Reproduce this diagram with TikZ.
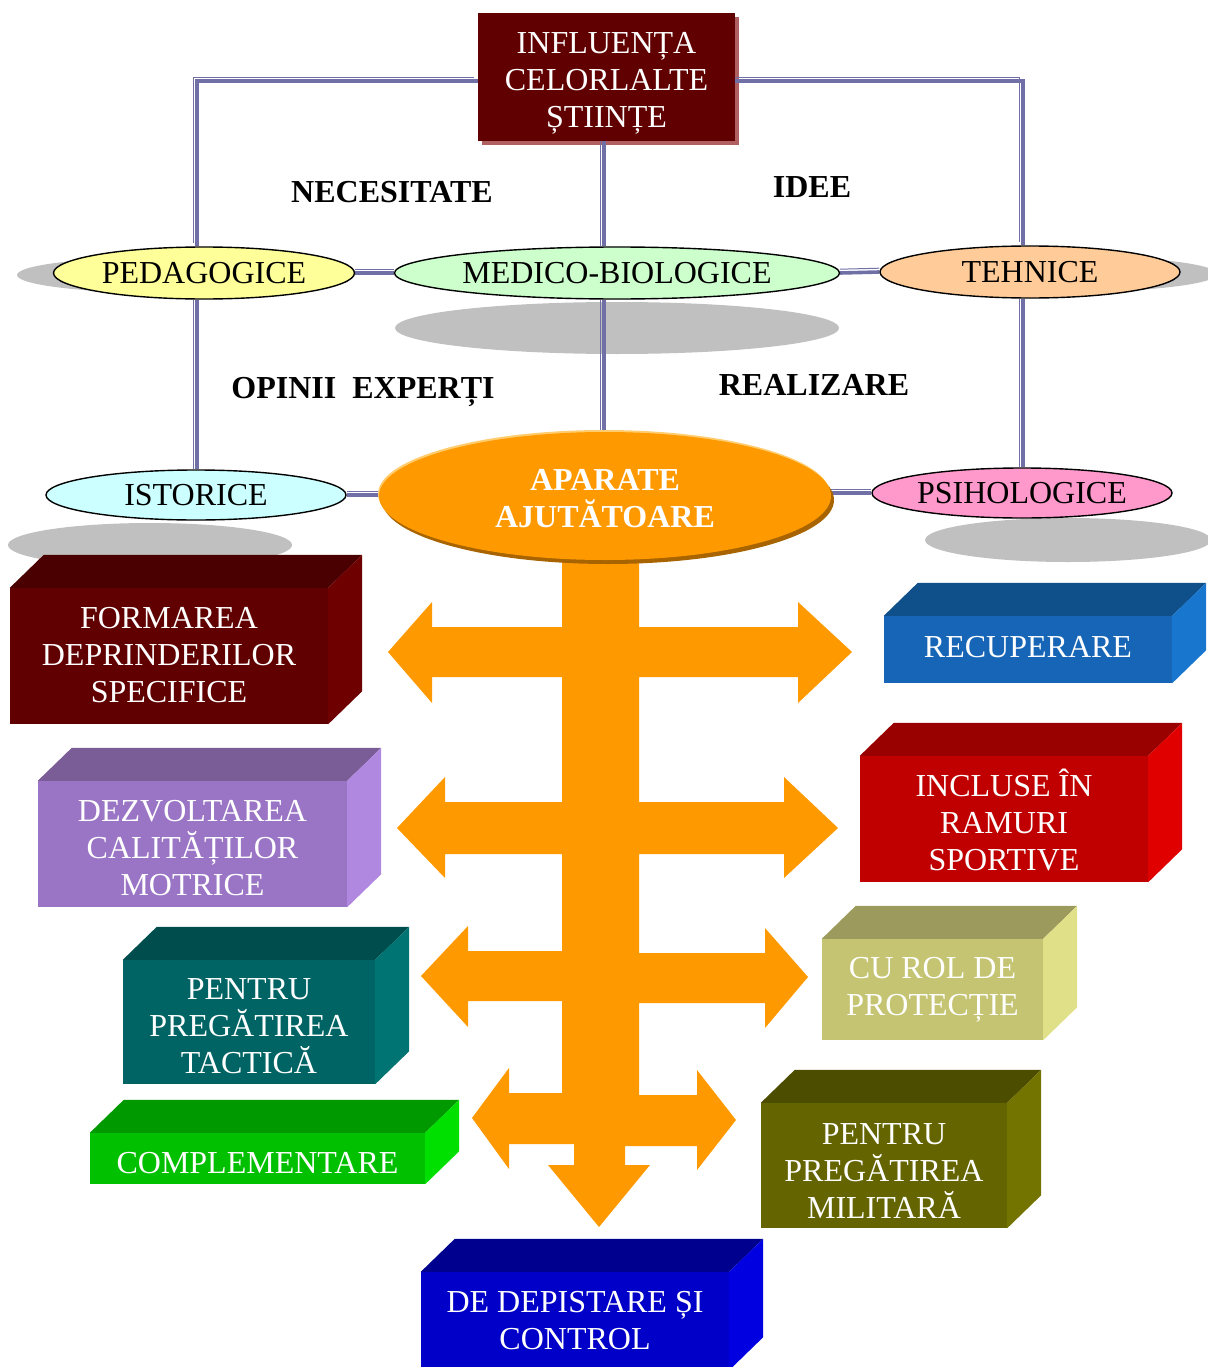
\documentclass[tikz,border=0pt]{standalone}
\usepackage{fontspec}
\setmainfont{Liberation Serif}
\usetikzlibrary{shapes.geometric,calc}
\pgfdeclarelayer{back}
\pgfsetlayers{back,main}

\definecolor{linkcol}{RGB}{112,112,166}
\definecolor{shadowgray}{RGB}{192,192,192}
\definecolor{maroon}{RGB}{96,0,0}
\definecolor{maroonshade}{RGB}{176,96,96}
\definecolor{orangemain}{RGB}{255,153,0}
\definecolor{orangedark}{RGB}{168,100,0}
\definecolor{orangelight}{RGB}{255,204,110}
\definecolor{pedfill}{HTML}{FFFF99}
\definecolor{medfill}{HTML}{CCFFCC}
\definecolor{tehfill}{HTML}{FFCC99}
\definecolor{istfill}{HTML}{CCFFFF}
\definecolor{psifill}{HTML}{FF99CC}

\tikzset{
  txt/.style={font=\fontsize{32}{37}\selectfont, align=center},
  boldlabel/.style={font=\fontsize{32}{37}\selectfont\bfseries},
  oval/.style={txt, ellipse, draw=black, line width=1.4pt, inner sep=0pt},
  % thin-thick compound connector: thick band plus a thin rule beside it
  link/.style={draw=linkcol, line width=3.6pt,
    preaction={draw=linkcol, line width=1pt, transform canvas={xshift=-3.8pt, yshift=3.8pt}}},
  hlink/.style={draw=linkcol, line width=3.6pt,
    preaction={draw=linkcol, line width=1pt, transform canvas={yshift=3.8pt}}},
  vlink/.style={draw=linkcol, line width=3.6pt,
    preaction={draw=linkcol, line width=1pt, transform canvas={xshift=-3.8pt}}},
  cubefront/.style={rectangle, inner sep=0pt},
}

% vertical nudge of a block's text
\newcommand{\textnudge}{0}
% 3D block: name, x1, y1, x2, y2, front, top, side (HTML hex), text
\newcommand{\solidblock}[9]{%
  \definecolor{#1front}{HTML}{#6}%
  \definecolor{#1top}{HTML}{#7}%
  \definecolor{#1side}{HTML}{#8}%
  \node[cubefront, fill=#1front, minimum width={#4-#2}, minimum height={#5-#3}]
    (#1) at ({(#2+#4)/2},{(#3+#5)/2}) {};
  \fill[#1top] (#1.north west) -- ++(34,-33) -- ($(#1.north east)+(34,-33)$)
    -- (#1.north east) -- cycle;
  \fill[#1side] (#1.north east) -- ++(34,-33) -- ($(#1.south east)+(34,-33)$)
    -- (#1.south east) -- cycle;
  \node[txt, text=white] (#1text) at ($(#1)+(0,\textnudge)$) {#9};
}

\begin{document}
\begin{tikzpicture}[x=1pt,y=-1pt]
\useasboundingbox (0,0) rectangle (1207,1367);

% top box
\node[rectangle, fill=maroon, minimum width=257, minimum height=128, inner sep=0pt]
  (top) at (606.5,77) {};
\node[txt, text=white] (toptext) at (606.5,83) {INFLUENȚA\\CELORLALTE\\ȘTIINȚE};

% ellipses
\node[oval, fill=pedfill, minimum width=301, minimum height=52] (ped) at (204,273) {PEDAGOGICE};
\node[oval, fill=medfill, minimum width=445, minimum height=52] (med) at (617,273) {MEDICO-BIOLOGICE};
\node[oval, fill=tehfill, minimum width=300, minimum height=52] (teh) at (1030,272) {TEHNICE};
\node[oval, fill=istfill, minimum width=300, minimum height=50] (ist) at (196,495) {ISTORICE};
\node[oval, fill=psifill, minimum width=300, minimum height=50] (psi) at (1022,493) {PSIHOLOGICE};

% central ellipse with its rim
\fill[orangedark] (608,500) ellipse [x radius=226, y radius=64];
\fill[orangelight] (604,494) ellipse [x radius=226, y radius=64];
\node[ellipse, fill=orangemain, minimum width=452, minimum height=128, inner sep=0pt] (apa) at (605,496) {};
\node[txt, text=white, font=\fontsize{32}{37}\selectfont\bfseries] (apatext) at (605,498.5) {APARATE\\AJUTĂTOARE};

% labels between the links
\node[boldlabel] (nec) at (392,192) {NECESITATE};
\node[boldlabel] (idee) at (812,187) {IDEE};
\node[boldlabel] (opi) at (363,392) {OPINII\ \ EXPERȚI};
\node[boldlabel] (rea) at (814,385) {REALIZARE};

% 3D blocks
\renewcommand{\textnudge}{-1}
\solidblock{form}{10}{588}{328}{724}{600000}{4A0000}{6E0000}{FORMAREA\\DEPRINDERILOR\\SPECIFICE}
\renewcommand{\textnudge}{-2}
\solidblock{recup}{884}{616}{1172}{683}{1665B6}{0F4F8A}{1876CF}{RECUPERARE}
\renewcommand{\textnudge}{1}
\solidblock{incl}{860}{756}{1148}{882}{C00000}{990000}{E00000}{INCLUSE ÎN\\RAMURI\\SPORTIVE}
\renewcommand{\textnudge}{4}
\solidblock{dezv}{38}{781}{347}{907}{9B75C5}{7A5C96}{B088E0}{DEZVOLTAREA\\CALITĂȚILOR\\MOTRICE}
\renewcommand{\textnudge}{4}
\solidblock{tact}{123}{960}{375}{1084}{006464}{004D4D}{007373}{PENTRU\\PREGĂTIREA\\TACTICĂ}
\renewcommand{\textnudge}{5}
\solidblock{compl}{90}{1133}{425}{1184}{00C000}{009900}{00E000}{COMPLEMENTARE}
\renewcommand{\textnudge}{0}
\solidblock{prot}{822}{939}{1043}{1040}{C4C472}{9C9A5C}{E0E088}{CU ROL DE\\PROTECȚIE}
\renewcommand{\textnudge}{6}
\solidblock{mil}{761}{1103}{1007}{1228}{646400}{4D4D00}{737300}{PENTRU\\PREGĂTIREA\\MILITARĂ}
\renewcommand{\textnudge}{0}
\solidblock{dep}{421}{1272}{729}{1370}{0000C8}{00008E}{0000E0}{DE DEPISTARE ȘI\\CONTROL}

\begin{pgfonlayer}{back}
  % cast shadows
  \fill[shadowgray] (167,275) ellipse [x radius=150, y radius=18];
  \fill[shadowgray] (617,328) ellipse [x radius=222, y radius=26];
  \fill[shadowgray] (1067,274) ellipse [x radius=150, y radius=18];
  \fill[shadowgray] (150,545) ellipse [x radius=142, y radius=22];
  \fill[shadowgray] (1068,540) ellipse [x radius=143, y radius=22];
  \fill[maroonshade] ([shift={(4,4)}]top.north west) rectangle ([shift={(4,4)}]top.south east);

  % branching orange arrow
  \fill[orangemain] (562,540) -- (562,627) -- (432,627) -- (432,602) -- (388,652) -- (432,703) -- (432,677)
    -- (562,677) -- (562,802) -- (445,802) -- (445,777) -- (397,828) -- (445,878) -- (445,854)
    -- (562,854) -- (562,951) -- (468,951) -- (468,926) -- (421,976) -- (468,1027) -- (468,1001)
    -- (562,1001) -- (562,1093) -- (509,1093) -- (509,1068) -- (472,1118) -- (509,1169) -- (509,1144)
    -- (574,1144) -- (574,1165) -- (548,1165) -- (599,1227) -- (650,1165) -- (625,1165)
    -- (625,1146) -- (697,1146) -- (697,1170) -- (736,1120) -- (697,1070) -- (697,1095)
    -- (639,1095) -- (639,1003) -- (765,1003) -- (765,1028) -- (808,977) -- (765,928) -- (765,953)
    -- (639,953) -- (639,854) -- (784,854) -- (784,878) -- (838,828) -- (784,777) -- (784,802)
    -- (639,802) -- (639,677) -- (798,677) -- (798,703) -- (852,652) -- (798,602) -- (798,627)
    -- (639,627) -- (639,540) -- cycle;

  % links
  \coordinate (jl) at (197,0);
  \coordinate (jm) at (604,0);
  \coordinate (jr) at (1023,0);
  \coordinate (jy) at (0,81);
  \draw[link] (top.west |- jy) -- (jl |- jy) -- (jl |- ped.north);
  \draw[link] (top.east |- jy) -- (jr |- jy) -- (jr |- teh.north);
  \draw[vlink] (top.south -| jm) -- (jm |- med.north);
  \draw[vlink] (jl |- ped.south) -- (jl |- ist.north);
  \draw[vlink] (jm |- med.south) -- (jm |- apa.north);
  \draw[vlink] (jr |- teh.south) -- (jr |- psi.north);
  \draw[hlink] (ped.east) -- (med.west);
  \draw[hlink] (med.east) -- (teh.west);
  \draw[hlink] (ist.east) -- (ist.east -| apa.west);
  \draw[hlink] (psi.west -| apa.east) -- (psi.west);
\end{pgfonlayer}
\end{tikzpicture}
\end{document}
